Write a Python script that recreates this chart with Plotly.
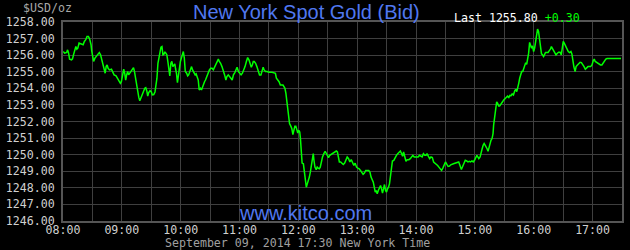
import pandas as pd
import plotly.graph_objects as go

# ---- data ----
session_date = "2014-09-09"
minutes_after_0800 = [
    0.3, 1.6, 3.7, 4.7, 5.7, 6.7, 8.7, 9.7, 10.7, 12.1, 13.1, 14.1, 15.1, 16.4, 17.8, 18.8,
    20.5, 21.8, 23.2, 24.5, 25.9, 27.2, 28.6, 29.2, 30.2, 31.2, 32.6, 33.9, 35.6, 37.0, 38.3,
    39.3, 40.7, 42.0, 43.0, 44.0, 45.0, 46.0, 47.4, 49.4, 50.8, 52.1, 54.1, 55.5, 57.1, 58.5,
    59.5, 60.8, 61.9, 62.9, 63.9, 64.9, 65.9, 66.9, 68.2, 69.6, 70.9, 71.9, 72.9, 74.0, 75.0,
    76.0, 77.3, 78.3, 79.3, 80.7, 82.0, 83.4, 84.4, 85.4, 86.4, 87.4, 88.8, 90.1, 91.1, 92.5,
    93.8, 94.8, 95.8, 96.8, 97.8, 98.9, 99.9, 100.9, 101.9, 102.9, 103.9, 104.9, 105.9, 106.9,
    107.9, 108.9, 110.0, 111.0, 112.0, 113.0, 114.0, 114.7, 115.7, 116.7,
    117.7, 118.7, 119.7, 120.7, 121.7, 122.7, 123.7, 124.7, 126.1, 127.1, 128.1, 129.1, 130.1,
    131.1, 132.1, 133.5, 134.8, 135.8, 136.9, 137.9, 138.9, 140.2, 141.2, 142.2, 143.2, 144.3,
    145.3, 146.6, 148.0, 149.3, 150.6, 152.0, 153.3, 154.7, 156.0, 157.4, 158.4, 159.4, 160.7,
    162.1, 163.4, 164.8, 166.1, 167.1, 168.5, 169.8, 171.2, 172.5, 173.8, 175.2, 176.5, 177.5,
    178.9, 180.2, 181.6, 182.9, 184.3, 185.6, 187.0, 188.3, 189.6, 191.0, 192.0, 193.0, 194.0,
    195.0, 196.4, 197.7, 199.1, 200.4, 201.8, 203.1, 204.1, 205.1, 206.5, 208.2, 209.8, 213.2,
    216.6, 217.6, 218.9, 220.3, 221.6, 224.3, 225.3, 226.3, 227.3, 228.3,
    229.3, 230.3, 231.0, 232.3, 233.3, 234.4, 235.4, 236.4, 237.4, 238.4, 239.4, 240.4, 241.4,
    242.1, 242.8, 243.8, 245.1, 246.1, 247.1, 248.1, 249.1, 250.2, 251.2, 252.2, 253.2, 254.2,
    255.2, 255.9, 256.9, 258.2, 259.2, 260.2, 261.3, 262.3, 263.3, 264.6, 266.0, 267.3, 268.3,
    269.3, 270.7, 272.0, 273.4, 274.7, 276.1, 277.4, 278.7, 279.8, 280.8, 281.8, 283.1, 284.5,
    285.8, 287.2, 288.5, 289.8, 291.2, 292.5, 293.9, 295.2, 296.6, 297.9, 299.3, 300.6, 302.0,
    303.3, 304.6, 306.0, 307.3, 308.7, 311.7, 313.0, 314.1, 315.4, 316.4, 317.4, 318.4, 319.4,
    320.4, 321.5, 322.8, 323.8, 324.8, 325.8, 326.8, 327.8, 328.9, 329.9, 330.9, 331.9, 332.9,
    333.9, 334.9, 335.9, 337.3, 338.6, 340.0, 341.3, 342.6, 344.0,
    345.3, 346.3, 347.3, 348.3, 349.7, 351.0, 352.7, 354.1, 355.4, 356.7, 358.1, 359.4, 360.8,
    362.1, 363.5, 364.8, 366.2, 367.5, 368.9, 370.2, 371.2, 372.6, 373.9, 375.2, 376.6, 377.9,
    379.3, 380.6, 382.0, 383.3, 384.7, 386.0, 387.3, 388.7, 390.0, 391.4, 392.7, 394.1, 395.4,
    398.1, 400.8, 403.5, 404.8, 406.2, 407.5, 408.9, 410.2, 411.6, 412.9, 414.3, 415.6, 417.0,
    418.3, 419.6, 421.0, 422.0, 423.0, 424.0, 425.3, 426.4, 427.4, 428.4, 429.4, 430.4, 431.4,
    432.4, 433.4, 434.4, 435.4, 436.4, 437.5, 438.5, 439.1, 440.1, 441.2, 442.2, 443.2, 444.2,
    445.2, 446.2, 447.2, 448.2, 449.2, 450.6, 451.9, 453.3, 454.6, 456.0,
    456.6, 458.0, 459.3, 460.7, 461.7, 462.7, 463.7, 464.7, 465.7, 466.7, 467.7, 468.8, 469.8,
    470.8, 471.8, 472.8, 473.8, 474.8, 475.8, 476.8, 477.8, 478.8, 479.9, 480.9, 481.9, 482.9,
    483.9, 484.9, 485.9, 486.9, 487.9, 488.9, 490.0, 490.9, 492.0, 493.3, 494.6, 495.7, 497.0,
    498.0, 499.0, 500.0, 501.4, 502.7, 504.1, 505.4, 506.8, 508.1, 509.1, 510.1, 511.1, 512.5,
    513.8, 515.2, 516.5, 517.9, 518.9, 519.9, 520.9, 522.2, 523.2, 524.6, 525.9, 527.3, 528.6,
    530.0, 531.3, 532.6, 534.0, 535.3, 538.0, 539.4, 540.7, 541.7, 542.7, 544.1, 545.4, 546.8,
    548.1, 549.5, 550.8, 552.2, 553.5, 554.8, 556.2, 569.0,
]
bid_price = [
    1256.22, 1256.12, 1256.16, 1256.32, 1256.12, 1255.76, 1255.72, 1255.78, 1256.02, 1256.32,
    1256.52, 1256.36, 1256.42, 1256.73, 1256.69, 1256.63, 1256.63, 1256.83, 1256.93, 1257.13,
    1257.13, 1256.97, 1256.63, 1256.28, 1255.82, 1255.62, 1255.82, 1255.92, 1256.06, 1256.16,
    1256.02, 1255.76, 1255.51, 1255.21, 1254.91, 1255.31, 1255.41, 1255.21, 1255.11, 1255.15,
    1255.01, 1254.81, 1254.75, 1254.61, 1254.46, 1254.30, 1254.40, 1254.81, 1255.15, 1254.91,
    1254.50, 1254.81, 1255.01, 1254.81, 1254.91, 1255.01, 1255.11, 1255.25, 1255.01, 1254.61,
    1254.20, 1253.80, 1253.45, 1253.25, 1253.39, 1253.60, 1253.86, 1254.00, 1254.04, 1253.86,
    1253.53, 1253.74, 1253.86, 1253.78, 1253.60, 1253.62, 1253.78, 1254.10, 1254.61, 1255.51,
    1255.82, 1256.22, 1256.48, 1256.52, 1256.02, 1256.06, 1256.20, 1256.12, 1256.02, 1255.62,
    1255.01, 1254.75, 1255.51, 1255.62, 1255.31, 1255.37, 1255.47, 1255.21, 1254.91, 1254.34,
    1254.81, 1255.51, 1255.62, 1255.82, 1256.02, 1256.22, 1255.82, 1255.01, 1254.91, 1254.75,
    1254.81, 1255.01, 1255.21, 1255.31, 1255.11, 1254.91, 1254.81, 1254.87, 1254.71, 1254.50,
    1253.90, 1254.00, 1253.90, 1254.10, 1254.20, 1254.40, 1254.50, 1254.71, 1254.91, 1255.11,
    1255.21, 1255.21, 1255.11, 1255.31, 1255.51, 1255.68, 1255.76, 1255.62, 1255.51, 1255.31,
    1255.11, 1254.81, 1254.50, 1254.71, 1254.81, 1254.67, 1254.61, 1254.50, 1254.81, 1254.95,
    1255.11, 1255.27, 1255.01, 1254.91, 1254.81, 1254.91, 1255.11, 1255.31, 1255.62, 1255.86,
    1255.72, 1255.51, 1255.27, 1255.41, 1255.62, 1255.62, 1255.51, 1255.31, 1255.11, 1254.81,
    1254.81, 1255.01, 1255.27, 1255.11, 1255.01, 1255.01, 1254.97, 1254.97, 1254.91, 1254.61,
    1254.50, 1254.40, 1254.20, 1254.20, 1254.10, 1254.00, 1253.70, 1253.29,
    1252.89, 1252.28, 1251.88, 1251.72, 1251.58, 1251.21, 1251.51, 1251.72, 1251.72, 1251.47,
    1251.31, 1251.47, 1251.37, 1250.97, 1250.06, 1249.49, 1249.45, 1249.05, 1248.55, 1248.04,
    1248.24, 1248.44, 1248.65, 1248.95, 1249.25, 1249.66, 1250.06, 1249.66, 1249.25, 1249.09,
    1249.25, 1249.19, 1249.15, 1249.25, 1249.56, 1249.86, 1250.06, 1250.20, 1250.10, 1249.96,
    1249.82, 1249.96, 1250.02, 1250.06, 1250.10, 1250.16, 1250.22, 1250.16, 1249.86, 1249.56,
    1249.56, 1249.49, 1249.41, 1249.49, 1249.66, 1249.86, 1249.76, 1249.56, 1249.70, 1249.56,
    1249.35, 1249.49, 1249.25, 1249.19, 1249.15, 1249.05, 1248.95, 1248.81, 1248.89, 1249.05,
    1249.05, 1248.95, 1248.65, 1248.48, 1248.34, 1248.04, 1247.74, 1247.84, 1247.64, 1247.84,
    1248.04, 1248.14, 1247.94, 1247.68, 1247.94, 1248.20, 1247.84, 1247.74, 1247.94, 1248.04,
    1248.24, 1248.65, 1249.25, 1249.62, 1249.66, 1249.86, 1249.96, 1250.06, 1250.16, 1250.22,
    1250.06, 1249.90, 1250.16, 1249.90, 1249.60, 1249.70, 1249.70, 1249.76, 1249.86, 1249.96,
    1249.86, 1249.86, 1249.90, 1249.86, 1249.96, 1249.90, 1249.86, 1250.06, 1249.96, 1249.96,
    1250.06, 1249.90, 1249.76, 1249.86, 1249.82, 1249.56, 1249.49, 1249.45, 1249.35, 1249.25,
    1249.15, 1249.05, 1249.19, 1249.35, 1249.56, 1249.41, 1249.29, 1249.31, 1249.39, 1249.45,
    1249.49, 1249.56, 1249.35, 1249.11, 1249.29, 1249.49, 1249.66, 1249.62, 1249.56, 1249.60,
    1249.56, 1249.62, 1249.56, 1249.66, 1249.86, 1249.96, 1249.86, 1249.76, 1249.86, 1250.06,
    1250.36, 1250.57, 1250.67, 1250.57, 1250.50, 1250.36, 1250.20, 1250.46, 1250.71, 1250.87,
    1250.97, 1251.27, 1251.78, 1252.28, 1252.79, 1253.19, 1253.09, 1252.93, 1252.93, 1253.05,
    1253.13, 1253.19, 1253.29, 1253.35, 1253.45, 1253.53, 1253.45, 1253.60,
    1253.53, 1253.66, 1253.60, 1253.86, 1253.94, 1253.80, 1254.00, 1254.30, 1254.61, 1254.87,
    1255.01, 1255.01, 1255.21, 1255.41, 1255.55, 1255.45, 1255.72, 1256.12, 1256.77, 1256.52,
    1256.42, 1256.56, 1256.22, 1256.42, 1256.93, 1257.33, 1257.57, 1257.43, 1257.03, 1256.52,
    1256.08, 1256.02, 1255.92, 1256.02, 1256.16, 1256.16, 1256.16, 1256.26, 1256.36, 1256.52,
    1256.42, 1256.28, 1256.12, 1256.02, 1256.12, 1256.18, 1256.18, 1256.02, 1256.42, 1256.83,
    1256.73, 1256.56, 1256.36, 1256.22, 1256.16, 1256.22, 1256.08, 1255.62, 1255.31, 1255.01,
    1255.31, 1255.41, 1255.51, 1255.57, 1255.55, 1255.45, 1255.31, 1255.15, 1255.21, 1255.31,
    1255.31, 1255.41, 1255.68, 1255.76, 1255.62, 1255.57, 1255.55, 1255.45, 1255.41, 1255.41,
    1255.55, 1255.68, 1255.76, 1255.80, 1255.80, 1255.80,
]
y_ticks = [1246, 1247, 1248, 1249, 1250, 1251, 1252, 1253, 1254, 1255, 1256, 1257, 1258]
chart_title = "New York Spot Gold (Bid)"
last_price = "1255.80"
change = "+0.30"
unit_label = "$USD/oz"
footer_site = "www.kitco.com"
timestamp_text = "September 09, 2014 17:30 New York Time"

times = pd.Timestamp(session_date + " 08:00") + pd.to_timedelta(minutes_after_0800, unit="min")

BLUE = "#5078f0"
GRID = "#3f3f3f"
FRAME = "#555555"
MONO = "DejaVu Sans Mono"
MS = 11.6

fig = go.Figure(go.Scatter(
    x=times, y=bid_price, mode="lines",
    line=dict(color="#00ff00", width=1.5),
    hoverinfo="skip",
))

fig.update_layout(
    width=630, height=250,
    margin=dict(l=59, r=6, t=22, b=29),
    paper_bgcolor="#000000", plot_bgcolor="#000000",
    showlegend=False,
    font=dict(family=MONO, size=MS, color="#d0d0d0"),
    xaxis=dict(
        range=[session_date + " 08:00", session_date + " 17:30"],
        tick0=session_date + " 08:00", dtick=3600000, tickformat="%H:%M",
        showgrid=True, gridcolor=GRID, gridwidth=1,
        minor=dict(dtick=1800000, showgrid=True, gridcolor=GRID, gridwidth=1),
        showline=True, linecolor=FRAME, linewidth=2, mirror=True,
        ticks="", ticklabelstandoff=-3,
        tickfont=dict(family=MONO, size=MS, color="#d0d0d0"),
        zeroline=False, fixedrange=True,
    ),
    yaxis=dict(
        range=[1246, 1258], tickvals=y_ticks, tickformat=".2f",
        showgrid=True, gridcolor=GRID, gridwidth=1,
        showline=True, linecolor=FRAME, linewidth=2, mirror=True,
        ticks="outside", ticklen=4, tickcolor="rgba(0,0,0,0)",
        tickfont=dict(family=MONO, size=MS, color="#d0d0d0"),
        zeroline=False, fixedrange=True,
    ),
)

def px_x(x):
    return (x - 59) / 565.0

def px_y(y):
    return (221 - y) / 199.0

fig.add_annotation(text=chart_title, xref="paper", yref="paper",
                   x=px_x(305), y=px_y(12), xanchor="center", yanchor="middle",
                   showarrow=False, font=dict(family="Liberation Sans", size=20, color=BLUE))
fig.add_annotation(text="Last " + last_price + " <span style='color:#00ff00'>" + change + "</span>",
                   xref="paper", yref="paper", x=px_x(452), y=px_y(18),
                   xanchor="left", yanchor="middle", showarrow=False,
                   font=dict(family=MONO, size=MS, color="#ffffff"))
fig.add_annotation(text=unit_label, xref="paper", yref="paper",
                   x=px_x(17), y=px_y(8), xanchor="left", yanchor="middle",
                   showarrow=False, font=dict(family=MONO, size=MS, color="#a8a8a8"))
fig.add_annotation(text=footer_site, xref="paper", yref="paper",
                   x=px_x(304), y=px_y(213), xanchor="center", yanchor="middle",
                   showarrow=False, font=dict(family="Liberation Sans", size=20, color=BLUE))
fig.add_annotation(text=timestamp_text, xref="paper", yref="paper",
                   x=px_x(296), y=px_y(242.5), xanchor="center", yanchor="middle",
                   showarrow=False, font=dict(family=MONO, size=MS, color="#a0a0a0"))

fig.write_html("out.html", config={"displayModeBar": False})
